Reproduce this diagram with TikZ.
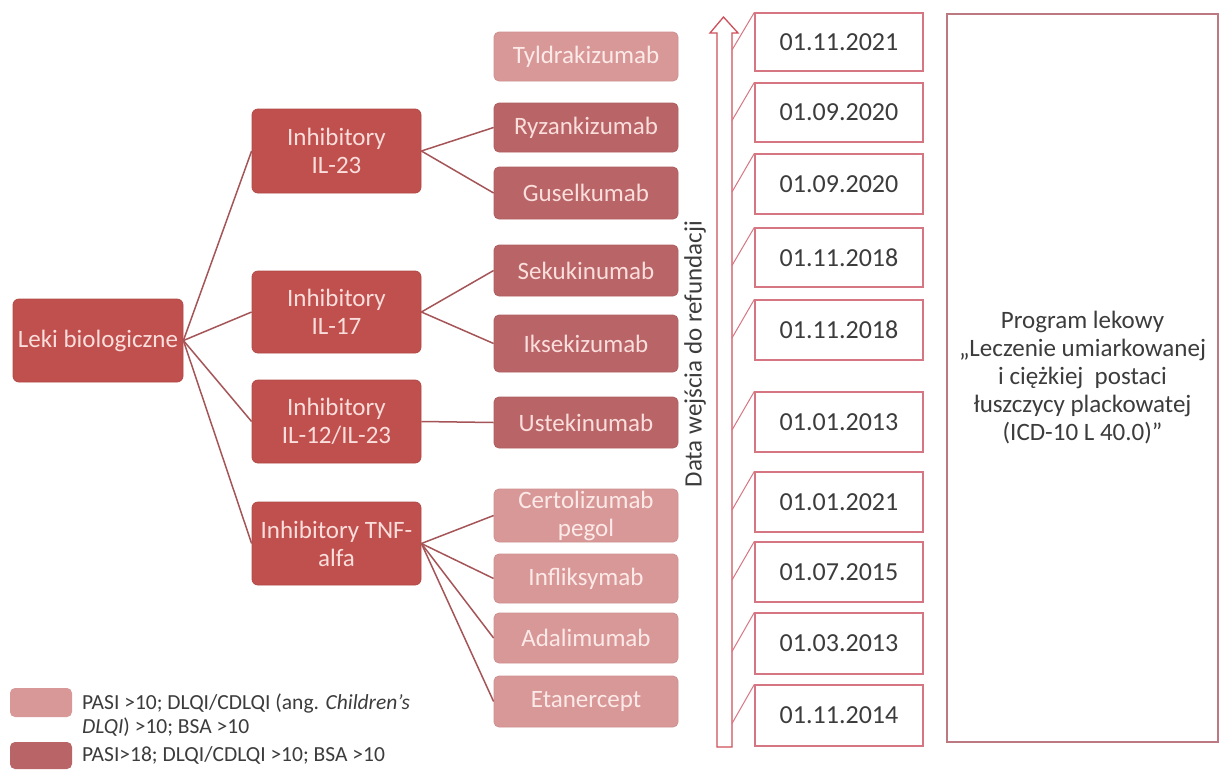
\documentclass[tikz,border=0pt]{standalone}
\usepackage{fontspec}
\setmainfont{Carlito}
\newcommand\fsz[2]{\fontsize{#1}{#2}\selectfont}
\definecolor{catred}{RGB}{192,80,77}
\definecolor{drugmid}{RGB}{185,100,103}
\definecolor{druglight}{RGB}{217,152,152}
\definecolor{boxtxt}{RGB}{250,222,220}
\definecolor{lighttxt}{RGB}{252,234,232}
\definecolor{linec}{RGB}{165,85,88}
\definecolor{dateborder}{RGB}{214,118,130}
\definecolor{arrowc}{RGB}{205,80,90}
\definecolor{txtgrey}{RGB}{60,60,60}
\tikzset{
  catbox/.style={fill=catred, draw=catred!92!black, line width=0.8pt, rounded corners=6pt,
    text=boxtxt, align=center, inner sep=0pt, font=\fsz{25}{28}},
  midbox/.style={fill=drugmid, draw=drugmid!95!black, line width=0.8pt, rounded corners=5pt,
    text=boxtxt, align=center, inner sep=0pt, font=\fsz{25}{28}, minimum width=184pt},
  lightbox/.style={fill=druglight, draw=druglight!95!black, line width=0.8pt, rounded corners=5pt,
    text=lighttxt, align=center, inner sep=0pt, font=\fsz{25}{28}, minimum width=184pt},
  datebox/.style={draw=dateborder, line width=1.3pt, fill=white, text=txtgrey,
    inner sep=0pt, font=\fsz{26}{28}, minimum width=168pt},
  conn/.style={draw=linec, line width=1.5pt},
  dconn/.style={draw=dateborder, line width=1pt},
  sz/.style 2 args={minimum width=#1pt, minimum height=#2pt}
}
\begin{document}
\begin{tikzpicture}[x=1pt,y=-1pt]
\useasboundingbox[fill=white] (0,0) rectangle (1220,769);

% root and categories
\node[catbox, sz={170}{83}] (leki) at (98,340.5) {Leki biologiczne};
\node[catbox, sz={169}{84}] (il23) at (336.5,151) {Inhibitory\\IL-23};
\node[catbox, sz={169}{82}] (il17) at (336.5,312) {Inhibitory\\IL-17};
\node[catbox, sz={169}{83}] (il12) at (336.5,421.5) {Inhibitory\\IL-12/IL-23};
\node[catbox, sz={169}{83}] (tnf) at (336.5,543.5) {Inhibitory TNF-\\alfa};

% drugs
\node[lightbox, minimum height=49pt] (tyl) at (586,56.5) {Tyldrakizumab};
\node[midbox, minimum height=49pt] (ryz) at (586,127.5) {Ryzankizumab};
\node[midbox, minimum height=52pt] (gus) at (586,193) {Guselkumab};
\node[midbox, minimum height=51pt] (sek) at (586,270.5) {Sekukinumab};
\node[midbox, minimum height=57pt] (iks) at (586,343.5) {Iksekizumab};
\node[midbox, minimum height=51pt] (ust) at (586,422.5) {Ustekinumab};
\node[lightbox, minimum height=53pt] (cer) at (586,515.5) {Certolizumab\\pegol};
\node[lightbox, minimum height=49pt] (inf) at (586,578.5) {Infliksymab};
\node[lightbox, minimum height=50pt] (ada) at (586,638) {Adalimumab};
\node[lightbox, minimum height=51pt] (eta) at (586,701.5) {Etanercept};

% connectors
\draw[conn] (leki.east) -- (il23.west);
\draw[conn] (leki.east) -- (il17.west);
\draw[conn] (leki.east) -- (il12.west);
\draw[conn] (leki.east) -- (tnf.west);
\draw[conn] (il23.east) -- (ryz.west);
\draw[conn] (il23.east) -- (gus.west);
\draw[conn] (il17.east) -- (sek.west);
\draw[conn] (il17.east) -- (iks.west);
\draw[conn] (il12.east) -- (ust.west);
\draw[conn] (tnf.east) -- (cer.west);
\draw[conn] (tnf.east) -- (inf.west);
\draw[conn] (tnf.east) -- (ada.west);
\draw[conn] (tnf.east) -- (eta.west);

% timeline arrow
\draw[arrowc, line width=1.3pt, fill=white, line join=miter]
  (717,747) -- (717,33) -- (710,33) -- (723.5,17) -- (738,33) -- (732,33) -- (732,747) -- cycle;
\node[rotate=90, text=txtgrey, font=\fsz{25}{28}, inner sep=0pt] (lab) at (695,354) {Data wejścia do refundacji};

% dates
\node[datebox, minimum height=58pt] (d1) at (839,42) {01.11.2021};
\node[datebox, minimum height=59pt] (d2) at (839,112.5) {01.09.2020};
\node[datebox, minimum height=60pt] (d3) at (839,184) {01.09.2020};
\node[datebox, minimum height=59pt] (d4) at (839,257.5) {01.11.2018};
\node[datebox, minimum height=60pt] (d5) at (839,330) {01.11.2018};
\node[datebox, minimum height=60pt] (d6) at (839,422) {01.01.2013};
\node[datebox, minimum height=60pt] (d7) at (839,502) {01.01.2021};
\node[datebox, minimum height=60pt] (d8) at (839,572) {01.07.2015};
\node[datebox, minimum height=61pt] (d9) at (839,643.5) {01.03.2013};
\node[datebox, minimum height=61pt] (d10) at (839,715.5) {01.11.2014};

\coordinate (a1) at (732,50);
\coordinate (a2) at (732,120.5);
\coordinate (a3) at (732,192);
\coordinate (a4) at (732,265.5);
\coordinate (a5) at (732,338);
\coordinate (a6) at (732,430);
\coordinate (a7) at (732,510);
\coordinate (a8) at (732,580);
\coordinate (a9) at (732,651.5);
\coordinate (a10) at (732,723.5);
\foreach \i in {1,...,10} { \draw[dconn] (a\i) -- (d\i.north west); }

% program box
\node[draw=dateborder!70!gray, line width=1.3pt, fill=white, text=txtgrey, align=center,
  font=\fsz{25}{28}, inner sep=0pt, sz={271}{728}] (prog) at (1082.5,378)
  {Program lekowy\\„Leczenie umiarkowanej\\i ciężkiej\ \ postaci\\łuszczycy plackowatej\\(ICD-10 L 40.0)”};

% legend
\node[fill=druglight, rounded corners=5pt, inner sep=0pt, sz={62}{29}] (sw1) at (41,702.5) {};
\node[fill=drugmid, rounded corners=5pt, inner sep=0pt, sz={62}{27}] (sw2) at (41,755.5) {};
\node[anchor=west, align=left, text=txtgrey, font=\fsz{21.5}{24}, inner sep=0pt] (lt1) at (82,715)
  {PASI >10; DLQI/CDLQI (ang. \textit{Children's}\\\textit{DLQI}) >10; BSA >10};
\node[anchor=west, align=left, text=txtgrey, font=\fsz{21.5}{24}, inner sep=0pt] (lt2) at (82,755)
  {PASI>18; DLQI/CDLQI >10; BSA >10};
\end{tikzpicture}
\end{document}
